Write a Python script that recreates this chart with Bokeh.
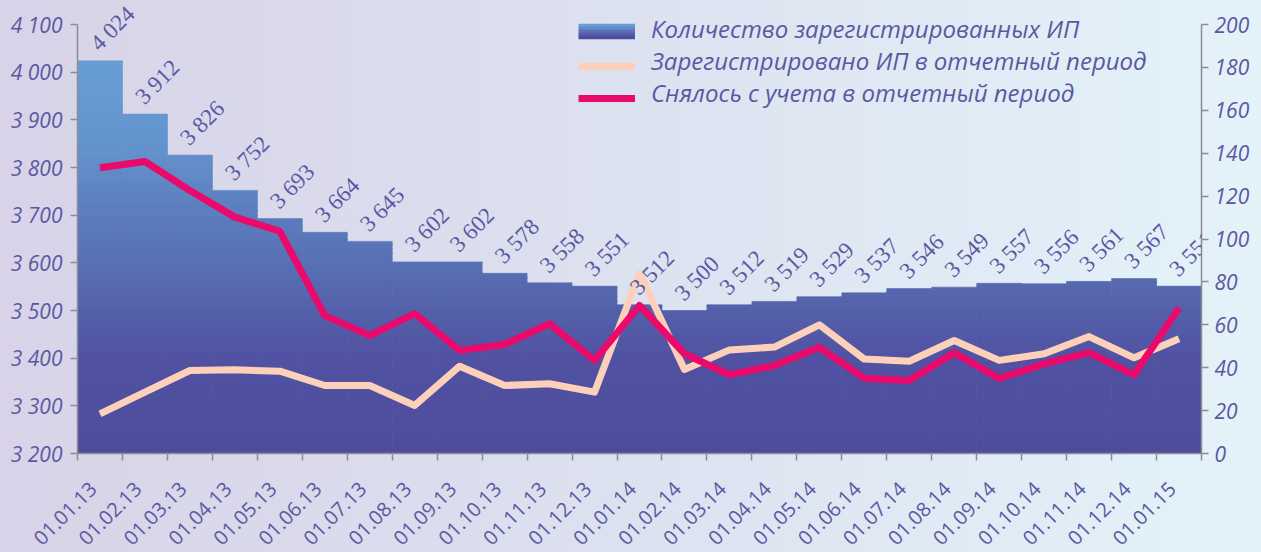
import numpy as np
from math import pi
from bokeh.plotting import figure
from bokeh.models import (Range1d, LinearAxis, FixedTicker, ColumnDataSource,
                          Legend, LegendItem, LabelSet, GlobalInlineStyleSheet)
from bokeh.embed import file_html
from bokeh.resources import INLINE

# ---------------- data ----------------
dates = ["01.01.13", "01.02.13", "01.03.13", "01.04.13", "01.05.13", "01.06.13",
         "01.07.13", "01.08.13", "01.09.13", "01.10.13", "01.11.13", "01.12.13",
         "01.01.14", "01.02.14", "01.03.14", "01.04.14", "01.05.14", "01.06.14",
         "01.07.14", "01.08.14", "01.09.14", "01.10.14", "01.11.14", "01.12.14",
         "01.01.15"]
total_ip = [4024, 3912, 3826, 3752, 3693, 3664, 3645, 3602, 3602, 3578, 3558, 3551,
            3512, 3500, 3512, 3519, 3529, 3537, 3546, 3549, 3557, 3556, 3561, 3567,
            3551]
registered = [18.5, 28.6, 38.7, 39.0, 38.4, 31.7, 31.7, 22.4, 40.7, 31.7, 32.5, 28.6,
              84.0, 39.2, 48.3, 49.6, 60.0, 44.0, 43.0, 52.7, 43.4, 46.5, 54.5, 44.6,
              53.5]
deregistered = [133.2, 136.1, 122.6, 110.2, 103.6, 64.3, 55.0, 65.2, 48.0, 50.8, 60.5,
                43.4, 69.0, 46.5, 36.7, 41.0, 49.5, 35.1, 34.0, 47.0, 35.0, 41.8, 47.0,
                36.7, 67.8]
left_ticks = list(range(3200, 4101, 100))
right_ticks = list(range(0, 201, 20))

series_names = ["Количество зарегистрированных ИП",
                "Зарегистрировано ИП в отчетный период",
                "Снялось с учета в отчетный период"]

# ---------------- styling ----------------
TXT = "#5b58a2"
AX = "#8c8c94"
FONT = "Open Sans"
PEACH = "#fdd0b9"
MAGENTA = "#ea0a6c"

# gradient for bars (by value level)
grad_v = [3200, 3400, 3500, 3600, 3700, 3850, 4100]
grad_c = [(79, 76, 158), (81, 82, 162), (84, 96, 170), (88, 112, 180),
          (92, 124, 190), (100, 148, 205), (106, 162, 216)]
# legend swatch gradient (top -> bottom)
swatch_cols = ["#699ed5", "#6388c7", "#5c70b8", "#555cab", "#4f4c9e"]

n = len(dates)
xc = np.arange(n) + 0.5              # category centres
xb = np.arange(n + 1).astype(float)  # category boundaries

# frame geometry: the frame reaches the top edge so value labels above the
# tallest bar are not clipped; axes are bounded to the real value range
FRAME_H = 453
AXIS_PX = 429            # pixel span of the value axes
top_left = left_ticks[0] + (left_ticks[-1] - left_ticks[0]) * FRAME_H / AXIS_PX
top_right = right_ticks[0] + (right_ticks[-1] - right_ticks[0]) * FRAME_H / AXIS_PX

seg_x, seg_b, seg_t, seg_c = [], [], [], []
band = 10
for lo in np.arange(left_ticks[0], left_ticks[-1], band):
    hi = lo + band
    mid = lo + band / 2
    r = int(round(np.interp(mid, grad_v, [c[0] for c in grad_c])))
    g = int(round(np.interp(mid, grad_v, [c[1] for c in grad_c])))
    b = int(round(np.interp(mid, grad_v, [c[2] for c in grad_c])))
    col = "#%02x%02x%02x" % (r, g, b)
    for xi, v in zip(xc, total_ip):
        if v > lo:
            seg_x.append(xi)
            seg_b.append(max(left_ticks[0], lo - 2))
            seg_t.append(min(v, hi))
            seg_c.append(col)

bars = ColumnDataSource(dict(x=seg_x, b=seg_b, t=seg_t, c=seg_c))
lab = ColumnDataSource(dict(x=xc, y=total_ip,
                            t=[f"{v:,}".replace(",", " ") for v in total_ip]))
lines = ColumnDataSource(dict(x=xc, reg=registered, der=deregistered))

p = figure(frame_width=1124, frame_height=FRAME_H, output_backend="svg",
           toolbar_location=None,
           x_range=Range1d(0, n), y_range=Range1d(left_ticks[0], top_left),
           min_border_left=77, min_border_right=60, min_border_top=0,
           min_border_bottom=99)
p.background_fill_alpha = 0
p.border_fill_alpha = 0
p.outline_line_color = None
p.xgrid.visible = False
p.ygrid.visible = False
p.stylesheets = [GlobalInlineStyleSheet(
    css="html,body{overflow:hidden;}"
        "html{height:100%;background:linear-gradient(to right,#d8d3e8 0%,#dce0ef 45%,#e3f3f9 100%);}")]

p.extra_y_ranges = {"right": Range1d(right_ticks[0], top_right)}

# bars
p.vbar(x="x", bottom="b", top="t", width=1.0, fill_color="c", line_color="c",
       line_width=0.6, source=bars)

# value labels
labels = LabelSet(x="x", y="y", text="t", source=lab, angle=pi / 4,
                  text_align="left", text_baseline="bottom", x_offset=3,
                  y_offset=5, text_font=FONT, text_font_size="23px",
                  text_color=TXT)
p.add_layout(labels)

# lines
r_reg = p.line(x="x", y="reg", source=lines, y_range_name="right",
               line_color=PEACH, line_width=7, line_join="round")
r_der = p.line(x="x", y="der", source=lines, y_range_name="right",
               line_color=MAGENTA, line_width=7, line_join="round")
# legend-only renderers (a single NaN point draws nothing in the plot)
r_swatch = [p.line(x=[xc[0]], y=[float("nan")], line_color=c, line_width=3.4)
            for c in swatch_cols]
r_blank = p.line(x=[xc[0]], y=[float("nan")], line_alpha=0)

# axes
ya = p.yaxis[0]
ya.ticker = FixedTicker(ticks=left_ticks)
ya.bounds = (left_ticks[0], left_ticks[-1])
ya.major_label_overrides = {v: f"{v:,}".replace(",", " ") for v in left_ticks}

ra = LinearAxis(y_range_name="right", ticker=FixedTicker(ticks=right_ticks),
                bounds=(right_ticks[0], right_ticks[-1]))
p.add_layout(ra, "right")

for ax in (ya, ra):
    ax.axis_line_color = AX
    ax.axis_line_width = 1.5
    ax.major_tick_line_color = AX
    ax.major_tick_line_width = 1.5
    ax.major_tick_out = 7
    ax.major_tick_in = 0
    ax.minor_tick_line_color = None
    ax.major_label_text_font = FONT
    ax.major_label_text_font_style = "italic"
    ax.major_label_text_font_size = "21px"
    ax.major_label_text_color = TXT
    ax.major_label_standoff = 8
ra.major_label_standoff = 6

label_pos = xc - 0.15   # rotated labels end at the category centre
xa = p.xaxis[0]
xa.ticker = FixedTicker(ticks=list(label_pos), minor_ticks=list(xb))
xa.major_label_overrides = {float(x): d for x, d in zip(label_pos, dates)}
xa.major_label_orientation = pi / 4
xa.axis_line_color = AX
xa.axis_line_width = 1.5
xa.major_tick_line_color = None
xa.major_tick_out = 0
xa.major_tick_in = 0
xa.minor_tick_line_color = AX
xa.minor_tick_line_width = 1.5
xa.minor_tick_out = 7
xa.minor_tick_in = 0
xa.major_label_text_font = FONT
xa.major_label_text_font_size = "20px"
xa.major_label_text_color = TXT
xa.major_label_standoff = 25

# legend: texts and swatches placed separately (swatches sit a bit lower)
common = dict(glyph_width=57, glyph_height=34, label_height=34, spacing=0,
              padding=0, margin=0, label_standoff=16, background_fill_alpha=0,
              border_line_alpha=0, label_text_font=FONT,
              label_text_font_style="italic", label_text_font_size="24px",
              label_text_color=TXT)
text_rows = [408, 376, 344]
for name, yb in zip(series_names, text_rows):
    p.add_layout(Legend(items=[LegendItem(label=name, renderers=[r_blank])],
                        location=(501, yb), **common))
# bar swatch built from thin strips (top light -> bottom dark)
swatch_strip_rows = [411, 408, 405, 402, 399]
for rend, yb in zip(r_swatch, swatch_strip_rows):
    p.add_layout(Legend(items=[LegendItem(label=" ", renderers=[rend])],
                        location=(501, yb), **common))
for rend, yb in zip([r_reg, r_der], [370, 338]):
    p.add_layout(Legend(items=[LegendItem(label=" ", renderers=[rend])],
                        location=(501, yb), **common))

open("out.html", "w").write(file_html(p, INLINE))
